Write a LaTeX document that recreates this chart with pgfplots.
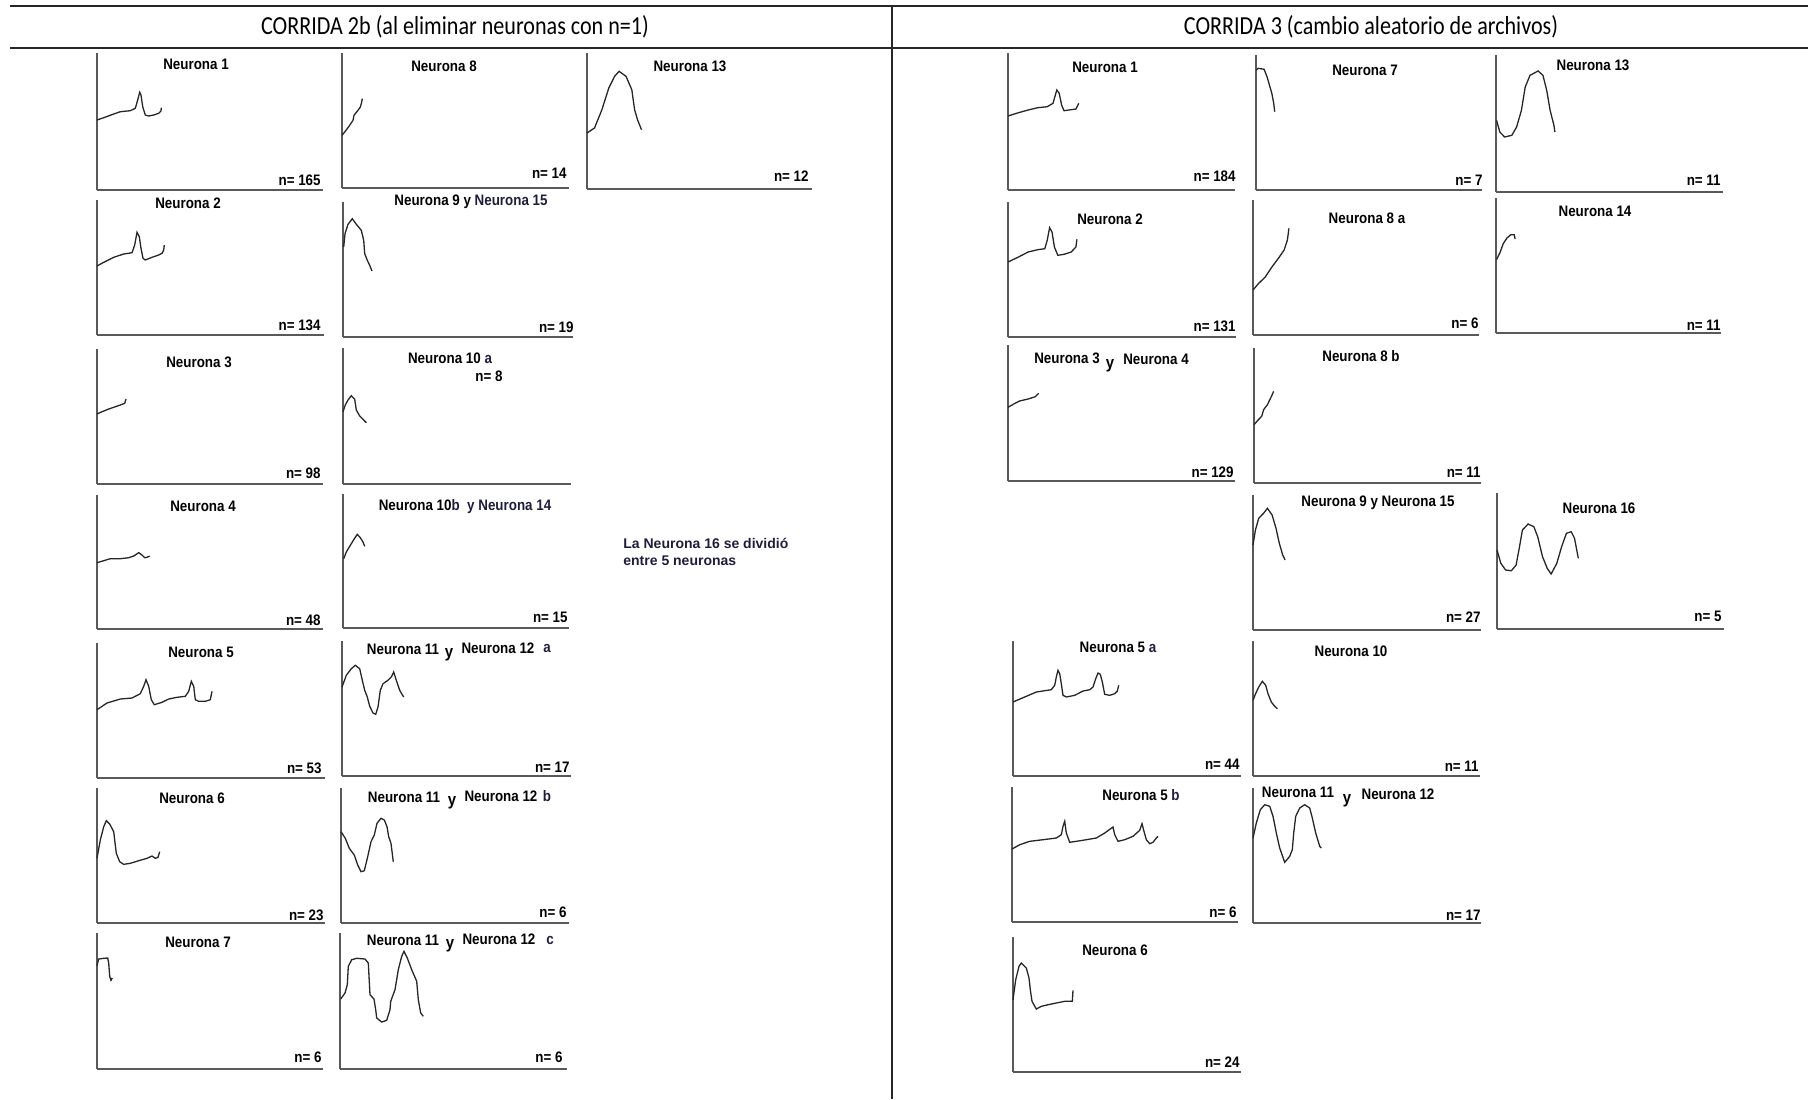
\documentclass[border=0pt]{standalone}
\usepackage{pgfplots}
\pgfplotsset{compat=1.18}
\usepackage{fontspec}
\setmainfont{Liberation Sans}
\newfontfamily\labfont{Liberation Sans}[FakeStretch=0.88]
\newfontfamily\titfont{Carlito}[FakeStretch=0.85]

\definecolor{eje}{gray}{0.35}
\definecolor{suf}{RGB}{30,30,60}

\pgfplotsset{neu/.style={scale only axis, anchor=south west, xmin=0, ymin=0,
    axis x line=bottom, axis y line=left,
    axis line style={-, eje, line width=1.2pt},
    xtick=\empty, ytick=\empty, clip=false}}

% #1 left, #2 bottom, #3 width, #4 height (pixels of the original), #5 curve
\newcommand{\panel}[5]{%
  \pgfmathsetmacro\pw{#3*0.5}\pgfmathsetmacro\ph{#4*0.5}%
  \begin{axis}[neu, at={(#1*0.5pt,-#2*0.5pt)}, width=\pw pt, height=\ph pt,
      xmax=#3, ymax=#4]
    \addplot[black!85, line width=0.65pt] coordinates {#5};
  \end{axis}}

\begin{document}
\begin{tikzpicture}

% ---------- CORRIDA 2b ----------
\panel{97}{190}{226}{137}{(0,70) (6.7,72.3) (16.7,76) (23.3,78.3) (33.3,79.3) (38.3,81.7) (40.7,90) (42.7,97.7) (44,95) (45.7,83.3) (48.3,75) (51.7,74) (56.7,75) (61.7,76.7) (64,79) (64.3,82.3)}
\panel{342}{188}{227}{135}{(0,52.7) (2.7,56) (7,61.7) (11,67.7) (12,72.7) (16,77.7) (18.3,81) (19.3,84.3) (20.3,89.3)}
\panel{587}{189}{225}{136}{(0,56) (7.5,61) (14.9,79.3) (21.8,101) (27.6,112.7) (32.1,117.7) (39,112.7) (44.8,99.3) (47.6,79.3) (50.5,69.3) (54.5,59.3)}
\panel{97}{335}{227}{135}{(0,69) (6.7,72.7) (16.7,77.7) (26.7,81) (35,82.3) (37.7,90) (40,102.7) (42.3,98.3) (44,86.7) (46,76.7) (48.3,75) (55,77.7) (61.7,80) (65,81.7) (66.7,85) (67.3,90)}
\panel{343}{337}{230}{135}{(0.7,90) (2,103.3) (5,112.7) (9.3,118.3) (13.3,112.7) (18.3,106.7) (20.7,96.7) (21.7,83.3) (24.3,76.7) (26.7,71.7) (29,66)}
\panel{97}{484}{226}{135}{(0,70) (5,72.3) (11.7,75) (16.7,76.7) (23.3,79) (27.7,80.7) (29,85)}
\panel{343}{484}{228}{136}{(0,72.3) (2.3,79) (5,84) (8.3,88.3) (11.7,84.7) (13.3,74) (16.7,68) (20,64.7) (23.3,61.3)}
\panel{97}{629}{226}{134}{(0,66.3) (6.7,68.3) (13.3,70.3) (23.3,70.3) (31.7,71.3) (36.7,73) (41.7,76.3) (45,74) (47.7,71.3) (50,71.7) (52.7,73)}
\panel{343}{628}{226}{134}{(0.7,69.3) (3.3,76) (6.7,81.7) (10.7,88.3) (14.3,93.7) (17.3,90.3) (20,86) (21.7,81.7)}
\panel{97}{778}{228}{135}{(0,68.3) (10,75) (23.3,79) (35,80) (43.3,84.3) (46.7,91.7) (49,98.3) (51.7,91.7) (54.3,78.3) (57.3,73.3) (65,75.7) (71.7,79) (80,80.7) (88.3,81.7) (91.7,86.7) (94.3,96.7) (96.7,91.7) (98.3,78.3) (101.7,76.7) (108.3,76.7) (113.3,78.3) (115,86.7)}
\panel{342}{776}{229}{135}{(0,89) (4.3,100.7) (9.3,107.3) (13.3,110.7) (17.7,107.3) (20.3,95.7) (22.7,85.7) (25.3,79) (27.7,69.7) (31,63) (33.7,61.7) (36,69) (38.3,85.7) (41,92.3) (46,95.7) (49.3,99) (51.7,104) (54.3,95.7) (57.7,85.7) (60,81.7) (61.7,79)}
\panel{97}{923}{228}{135}{(0,64.7) (3.3,83) (6.7,96.3) (9.3,102.3) (12.7,99) (16.7,91.3) (19.3,69.7) (22.7,61.3) (26.7,58.7) (33.3,59.7) (41.7,62.3) (50,64.7) (55,67) (58.3,64.7) (61,65.7) (62.7,71.3)}
\panel{341}{923}{228}{135}{(0,91.3) (4.3,84.7) (8.3,74.7) (13.3,68) (16.7,58) (20,51.3) (23.3,52.3) (26.7,66.3) (30,81.3) (33.3,88) (36,99.7) (40,104.7) (43.3,103) (46,96.3) (47.7,86.3) (50,79.7) (52.3,61.3)}
\panel{97}{1069}{226}{136}{(0,103.3) (1.7,110) (6.7,110.7) (10.7,111) (11.7,106) (12.7,92.7) (14,88.7) (15.3,91)}
\panel{340}{1069}{227}{136}{(0.7,70) (5,76) (7.3,84.3) (8.3,102.7) (11.7,109.3) (16.7,110.7) (25,110) (28.3,106) (30,74.3) (34,70) (35.7,59.3) (36.7,51) (41.7,47) (46.7,48.7) (50,59.3) (50.7,67.7) (55,79.3) (58.3,99.3) (61.7,112.7) (64,117.7) (67.3,111) (71.7,99.3) (76.7,87.7) (78.3,69.3) (80.7,56) (83.3,52.7)}

% ---------- CORRIDA 3 ----------
\panel{1008}{190}{227}{137}{(0,74) (10.5,77.3) (20.1,80) (29.7,82.3) (39.2,83.3) (45,86.7) (48.8,100) (51.2,96.7) (53.6,85) (56,79.3) (60.8,80) (67.9,81) (70.8,86.7)}
\panel{1256}{190}{226}{135}{(0,120) (2.4,121.7) (8.1,120.7) (11,113.3) (15.8,96.7) (17.7,86.7) (18.7,78.3)}
\panel{1496}{192}{227}{137}{(0.5,71.7) (3.8,60) (8.6,55) (15.8,56.7) (20.6,65) (25.4,81.7) (29.2,105) (34,116.7) (42.1,121) (46.9,116.7) (50.7,101.7) (54.1,81.7) (57.9,66.7) (58.9,60)}
\panel{1008}{337}{228}{135}{(0,75) (10.5,80) (20.1,85) (29.7,87.3) (36.8,88.3) (39.2,96.7) (41.6,109.3) (44,105) (46.4,90) (49.8,81.7) (56,82.7) (63.2,85) (67.9,90) (68.9,97.7)}
\panel{1253}{335}{226}{135}{(0,45) (5.7,51.7) (12,57.7) (19.1,68.3) (25.4,76.7) (31.1,85) (34.4,95) (35.9,106.7)}
\panel{1496}{333}{225}{135}{(0.5,73.3) (3.8,80) (7.2,89.3) (11,95) (14.8,98.3) (18.2,98.3) (19.1,94)}
\panel{1008}{481}{227}{136}{(0,73.7) (5.7,77) (11.5,80) (20.1,82) (27.3,84.3) (30.6,87.7)}
\panel{1254}{483}{227}{135}{(0,58.3) (3.8,62.7) (7.7,66.7) (9.6,73.3) (13.4,78.3) (15.8,83.3) (18.2,88.3) (19.6,91.7)}
\panel{1253}{630}{228}{135}{(0,85) (2.4,100) (5.7,111.7) (10.5,116.7) (14.4,121.7) (19.1,115) (23,101.7) (26.3,86.7) (29.7,75) (32.1,70)}
\panel{1497}{629}{227}{136}{(0,79) (3.8,65.7) (8.6,59) (14.4,58.3) (19.1,64) (22.5,82.3) (25.4,99) (31.1,105) (36.8,102.3) (40.7,92.3) (45.5,72.3) (50.2,60.7) (54.1,55) (59.8,65.7) (64.6,82.3) (69.4,95.7) (74.2,97.3) (77.5,90.7) (81.3,70.7)}
\panel{1013}{776}{228}{135}{(0,74) (10,78.3) (23.3,84) (38.3,86.3) (41.7,90.7) (43.3,99) (45,105.7) (46.7,102.3) (48.3,92.3) (50,80.7) (53.3,79) (61.7,80.7) (70,85) (76.7,86.3) (80,89) (82.7,97.3) (85,103) (87.3,101.7) (89.3,94) (91.7,81.7) (96.7,80.7) (101.7,82.3) (104.3,85) (105.7,90.7)}
\panel{1253}{776}{227}{135}{(0,75.7) (2.3,81.7) (5.7,89) (9.3,94.7) (12.7,90.7) (15,82.3) (18.3,74) (21.7,69.7) (24.3,67.3)}
\panel{1012}{922}{226}{135}{(0,73) (7.7,77.3) (17.7,80.7) (31,82.3) (44.3,84) (49.3,87.3) (51,95.7) (52.7,100.7) (54.3,89) (57.7,79.7) (64.3,80.7) (74.3,82.3) (84.3,84) (92.7,89) (101,95) (102.7,87.3) (106,80.7) (112.7,82.3) (121,85.7) (127.7,91.7) (130,98.3) (131.7,91.7) (134.3,82.3) (137.7,78.3) (141,79.7) (144.3,84) (146,85.7)}
\panel{1253}{923}{228}{135}{(0,85) (3.3,100) (7.3,113.3) (11.7,118.3) (16.7,116.7) (20,106.7) (23.3,90) (26.7,75) (31.7,60.7) (36.7,66.7) (39.3,73.3) (40.7,90) (42.7,106.7) (46.7,115) (51.7,118.3) (56.7,115) (59.3,105) (62.7,90) (66.7,76.7) (68.3,75)}
\panel{1013}{1072}{228}{135}{(0,72.3) (2.7,92.3) (6,105.7) (8.3,109) (13.3,104) (16,94) (17.3,82.3) (19,70.7) (23.3,63) (28.3,65.7) (35,67.3) (43.3,69) (51.7,70.7) (59.3,70.7) (60,81.7)}

\begin{scope}[x=0.5pt, y=-0.5pt,
    lab/.style={font=\labfont\bfseries\fontsize{7.6}{9}\selectfont, inner sep=0pt, text=black},
    nn/.style={lab, anchor=east},
    yy/.style={font=\labfont\bfseries\fontsize{8.5}{9}\selectfont, inner sep=0pt}]
  \path[use as bounding box] (0,0) rectangle (1808,1099);
  % frame lines
  \draw[line width=1pt, black!85] (10,6) -- (1808,6);
  \draw[line width=1pt, black!85] (10,48) -- (1808,48);
  \draw[line width=0.8pt, black!85] (892,6) -- (892,1099);
  \node[font=\titfont\fontsize{13}{15}\selectfont] at (455,27) {CORRIDA 2b (al eliminar neuronas con n=1)};
  \node[font=\titfont\fontsize{13}{15}\selectfont] at (1371,27) {CORRIDA 3 (cambio aleatorio de archivos)};

  % left labels
  \node[lab] at (196,64) {Neurona 1};            \node[nn] at (321,180) {n= 165};
  \node[lab] at (444,66) {Neurona 8};            \node[nn] at (567,173) {n= 14};
  \node[lab] at (690,66) {Neurona 13};           \node[nn] at (809,176) {n= 12};
  \node[lab] at (188,203) {Neurona 2};           \node[nn] at (321,325) {n= 134};
  \node[lab] at (471,202) {Neurona 9 y \textcolor{suf}{Neurona 15}}; \node[nn] at (574,327) {n= 19};
  \node[lab] at (199,362) {Neurona 3};           \node[nn] at (321,473) {n= 98};
  \node[lab] at (450,358) {Neurona 10 \textcolor{suf}{a}}; \node[lab] at (489,376) {n= 8};
  \node[lab] at (203,506) {Neurona 4};           \node[nn] at (321,620) {n= 48};
  \node[lab] at (465,507) {Neurona 10\textcolor{suf}{b}\ \ \textcolor{suf}{y Neurona 14}}; \node[nn] at (568,617) {n= 15};
  \node[lab] at (201,652) {Neurona 5};           \node[nn] at (322,768) {n= 53};
  \node[lab] at (403,649) {Neurona 11}; \node[yy] at (449,655) {y};
  \node[lab] at (498,648) {Neurona 12}; \node[lab, text=suf] at (547,648) {a};
  \node[nn] at (570,767) {n= 17};
  \node[lab] at (192,798) {Neurona 6};           \node[nn] at (324,915) {n= 23};
  \node[lab] at (404,797) {Neurona 11}; \node[yy] at (452,803) {y};
  \node[lab] at (501,796) {Neurona 12}; \node[lab, text=suf] at (547,796) {b};
  \node[nn] at (567,912) {n= 6};
  \node[lab] at (198,942) {Neurona 7};           \node[nn] at (322,1057) {n= 6};
  \node[lab] at (403,940) {Neurona 11}; \node[yy] at (450,946) {y};
  \node[lab] at (499,939) {Neurona 12}; \node[lab, text=suf] at (550,940) {c};
  \node[nn] at (563,1057) {n= 6};
  \node[lab, anchor=west, text=suf, font=\bfseries\fontsize{7}{9}\selectfont] at (623,543) {La Neurona 16 se dividió};
  \node[lab, anchor=west, text=suf, font=\bfseries\fontsize{7}{9}\selectfont] at (623,561) {entre 5 neuronas};

  % right labels
  \node[lab] at (1105,67) {Neurona 1};           \node[nn] at (1236,176) {n= 184};
  \node[lab] at (1365,70) {Neurona 7};           \node[nn] at (1483,180) {n= 7};
  \node[lab] at (1593,65) {Neurona 13};          \node[nn] at (1721,180) {n= 11};
  \node[lab] at (1110,219) {Neurona 2};          \node[nn] at (1236,326) {n= 131};
  \node[lab] at (1367,218) {Neurona 8 a};        \node[nn] at (1479,323) {n= 6};
  \node[lab] at (1595,211) {Neurona 14};         \node[nn] at (1721,325) {n= 11};
  \node[lab] at (1067,358) {Neurona 3}; \node[yy] at (1110,366) {y};
  \node[lab] at (1156,359) {Neurona 4};          \node[nn] at (1234,472) {n= 129};
  \node[lab] at (1361,356) {Neurona 8 b};        \node[nn] at (1481,472) {n= 11};
  \node[lab] at (1378,503) {Neurona 9 y Neurona 15}; \node[nn] at (1481,617) {n= 27};
  \node[lab] at (1599,508) {Neurona 16};         \node[nn] at (1722,616) {n= 5};
  \node[lab] at (1118,647) {Neurona 5 \textcolor{suf}{a}}; \node[nn] at (1240,764) {n= 44};
  \node[lab] at (1351,651) {Neurona 10};         \node[nn] at (1479,766) {n= 11};
  \node[lab] at (1141,795) {Neurona 5 \textcolor{suf}{b}}; \node[nn] at (1237,912) {n= 6};
  \node[lab] at (1298,792) {Neurona 11}; \node[yy] at (1347,801) {y};
  \node[lab] at (1398,794) {Neurona 12};         \node[nn] at (1481,915) {n= 17};
  \node[lab] at (1115,950) {Neurona 6};          \node[nn] at (1240,1062) {n= 24};
\end{scope}
\end{tikzpicture}
\end{document}
